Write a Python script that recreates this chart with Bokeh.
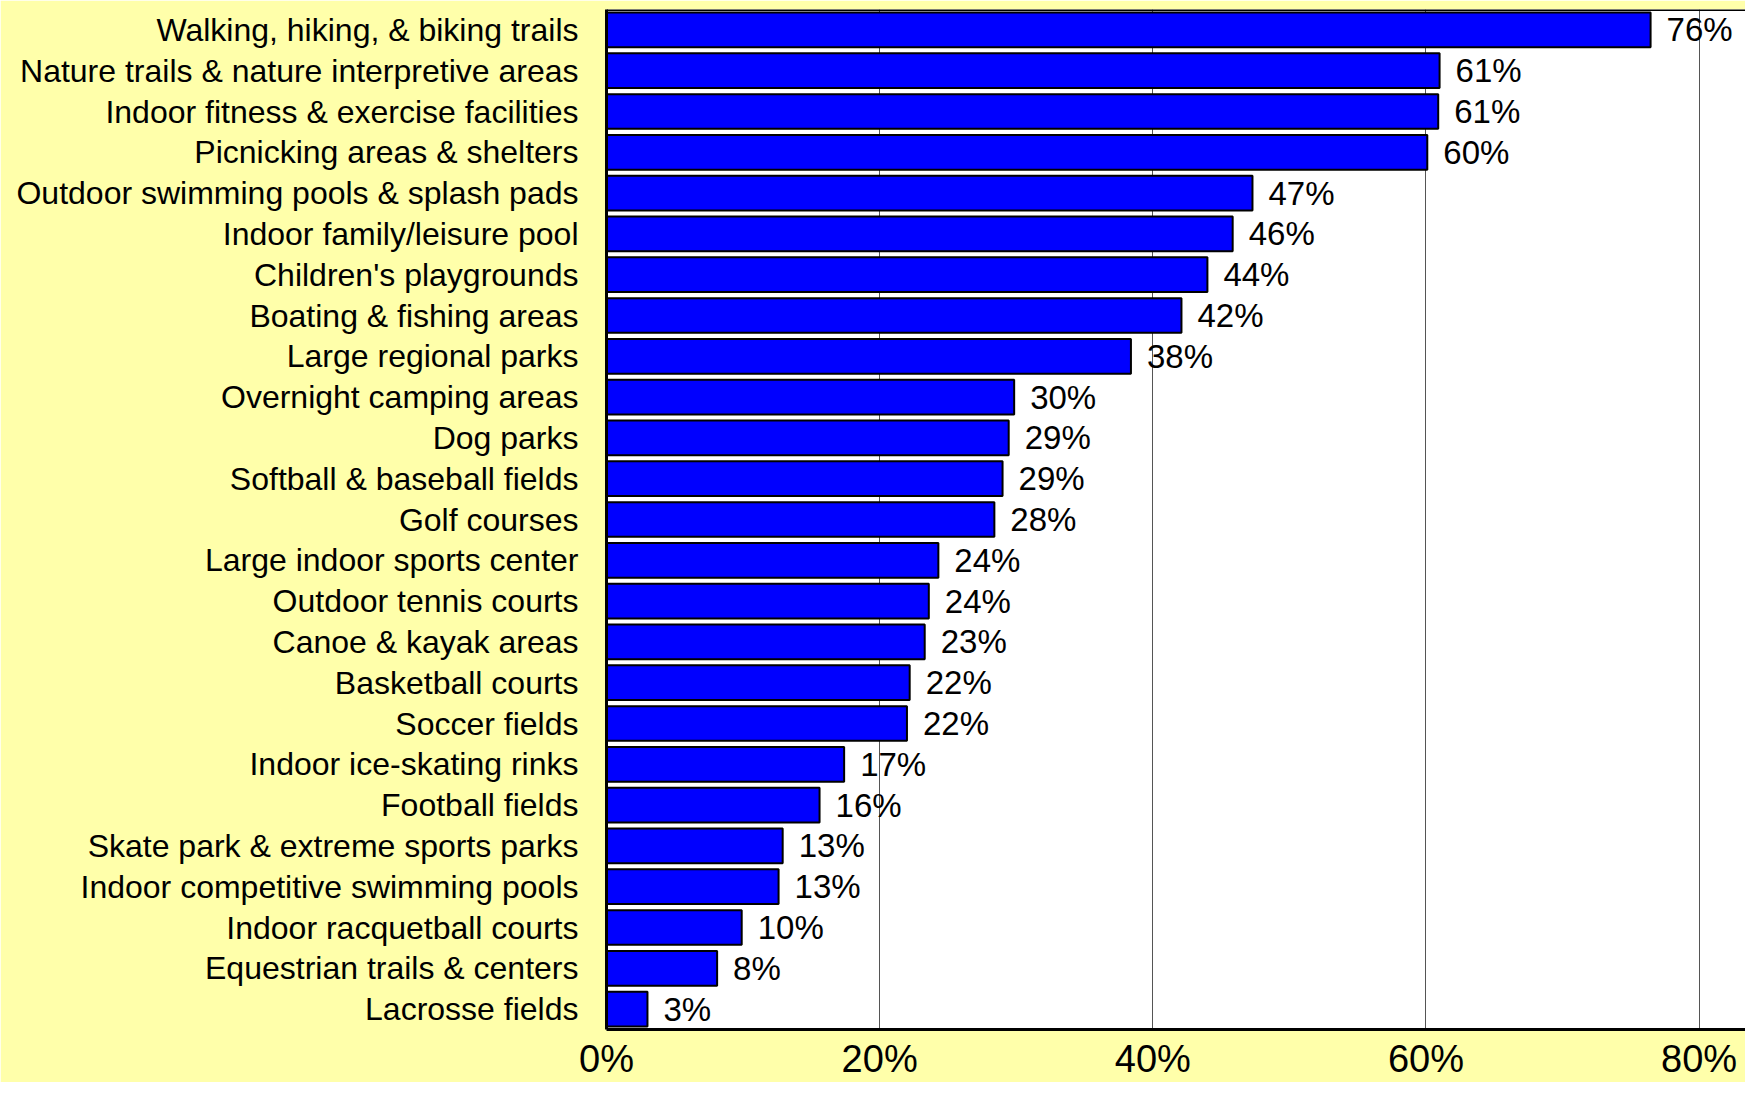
from bokeh.plotting import figure
from bokeh.models import ColumnDataSource, FactorRange, Range1d, FixedTicker, PrintfTickFormatter, Span
from bokeh.core.properties import value
from bokeh.embed import file_html
from bokeh.resources import INLINE

categories = [
    "Walking, hiking, & biking trails",
    "Nature trails & nature interpretive areas",
    "Indoor fitness & exercise facilities",
    "Picnicking areas & shelters",
    "Outdoor swimming pools & splash pads",
    "Indoor family/leisure pool",
    "Children's playgrounds",
    "Boating & fishing areas",
    "Large regional parks",
    "Overnight camping areas",
    "Dog parks",
    "Softball & baseball fields",
    "Golf courses",
    "Large indoor sports center",
    "Outdoor tennis courts",
    "Canoe & kayak areas",
    "Basketball courts",
    "Soccer fields",
    "Indoor ice-skating rinks",
    "Football fields",
    "Skate park & extreme sports parks",
    "Indoor competitive swimming pools",
    "Indoor racquetball courts",
    "Equestrian trails & centers",
    "Lacrosse fields",
]
values = [76.45, 61.0, 60.9, 60.1, 47.3, 45.85, 44.0, 42.1, 38.4, 29.85, 29.45,
          29.0, 28.4, 24.3, 23.6, 23.3, 22.2, 22.0, 17.4, 15.6, 12.9, 12.6, 9.9,
          8.1, 3.0]
labels = ["76%", "61%", "61%", "60%", "47%", "46%", "44%", "42%", "38%", "30%",
          "29%", "29%", "28%", "24%", "24%", "23%", "22%", "22%", "17%", "16%",
          "13%", "13%", "10%", "8%", "3%"]
x_ticks = [0, 20, 40, 60, 80]

FONT = "Liberation Sans"
YELLOW = "#FFFFAA"

src = ColumnDataSource(dict(cat=categories, val=values, label=labels))

p = figure(
    width=1745, height=1082,
    y_range=FactorRange(factors=categories[::-1], range_padding=0),
    x_range=Range1d(0, 83.4),
    output_backend="svg", toolbar_location=None,
    min_border_left=606, min_border_top=9, min_border_right=0, min_border_bottom=40,
)
p.background_fill_color = "white"
p.border_fill_color = YELLOW
p.outline_line_color = None

p.xgrid.ticker = FixedTicker(ticks=x_ticks)
p.xgrid.grid_line_color = "#555555"
p.xgrid.grid_line_width = 1
p.ygrid.grid_line_color = None

p.hbar(y="cat", right="val", left=0, height=0.85, source=src,
       fill_color="#0000FF", line_color="black", line_width=2)

p.text(x="val", y="cat", text="label", source=src, x_offset=16,
       text_align="left", text_baseline="middle",
       text_font=value(FONT), text_font_size="33px", text_color="black")

p.xaxis.ticker = FixedTicker(ticks=x_ticks)
p.xaxis.formatter = PrintfTickFormatter(format="%d%%")
p.xaxis.axis_line_color = "black"
p.xaxis.axis_line_width = 3
p.xaxis.major_tick_line_color = None
p.xaxis.minor_tick_line_color = None
p.xaxis.major_label_text_font = FONT
p.xaxis.major_label_text_font_size = "38px"
p.xaxis.major_label_text_color = "black"
p.xaxis.major_label_standoff = 2

p.yaxis.axis_line_color = "black"
p.yaxis.axis_line_width = 3
p.yaxis.major_tick_line_color = None
p.yaxis.minor_tick_line_color = None
p.yaxis.major_label_text_font = FONT
p.yaxis.major_label_text_font_size = "32px"
p.yaxis.major_label_text_color = "black"
p.yaxis.major_label_standoff = 22

p.add_layout(Span(location=len(categories), dimension="width",
                  line_color="black", line_width=3))

open("out.html", "w").write(file_html(p, INLINE))
